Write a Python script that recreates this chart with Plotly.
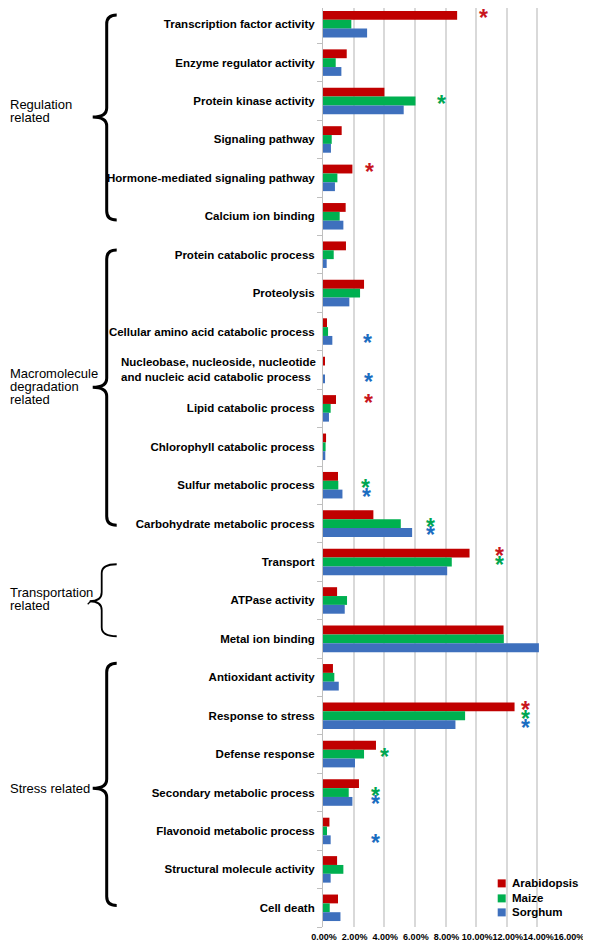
import plotly.graph_objects as go

# ---------------- data ----------------
categories = [
    "Transcription factor activity", "Enzyme regulator activity", "Protein kinase activity",
    "Signaling pathway", "Hormone-mediated signaling pathway", "Calcium ion binding",
    "Protein catabolic process", "Proteolysis", "Cellular amino acid catabolic process",
    "Nucleobase, nucleoside, nucleotide<br>and nucleic acid catabolic process",
    "Lipid catabolic process", "Chlorophyll catabolic process", "Sulfur metabolic process",
    "Carbohydrate metabolic process", "Transport", "ATPase activity", "Metal ion binding",
    "Antioxidant activity", "Response to stress", "Defense response",
    "Secondary metabolic process", "Flavonoid metabolic process",
    "Structural molecule activity", "Cell death",
]
arabidopsis = [8.76, 1.55, 4.01, 1.22, 1.92, 1.48, 1.50, 2.68, 0.26, 0.12, 0.85, 0.20,
               0.98, 3.29, 9.57, 0.92, 11.79, 0.65, 12.51, 3.46, 2.35, 0.42, 0.92, 0.98]
maize = [1.85, 0.83, 6.04, 0.57, 0.94, 1.09, 0.70, 2.42, 0.33, 0.0, 0.50, 0.17,
         1.00, 5.08, 8.41, 1.57, 11.81, 0.74, 9.28, 2.68, 1.68, 0.26, 1.33, 0.44]
sorghum = [2.88, 1.20, 5.27, 0.52, 0.78, 1.33, 0.24, 1.72, 0.61, 0.12, 0.39, 0.15,
           1.27, 5.82, 8.11, 1.42, 14.10, 1.03, 8.65, 2.09, 1.92, 0.50, 0.50, 1.14]
series_names = ["Arabidopsis", "Maize", "Sorghum"]

# significance asterisks: (category index, series index, x position in %)
star_cat = [0, 2, 4, 8, 9, 10, 12, 12, 13, 13, 14, 14, 18, 18, 18, 19, 20, 20, 21]
star_series = [0, 1, 0, 2, 2, 0, 1, 2, 1, 2, 0, 1, 0, 1, 2, 1, 1, 2, 2]
star_x = [10.5, 7.74, 3.05, 2.9, 2.99, 3.0, 2.79, 2.83, 7.0, 7.0, 11.5, 11.5,
          13.25, 13.25, 13.25, 4.03, 3.42, 3.42, 3.42]

group_lines = [["Regulation", "related"], ["Macromolecule", "degradation", "related"],
               ["Transportation", "related"], ["Stress related"]]

x_ticks = [0, 2, 4, 6, 8, 10, 12, 14, 16]
x_tick_labels = ["0.00%", "2.00%", "4.00%", "6.00%", "8.00%", "10.00%", "12.00%",
                 "14.00%", "16.00%"]

# ---------------- style ----------------
bar_colors = ["#C00000", "#00B050", "#3E70BD"]
star_colors = ["#C8161D", "#00A651", "#1B6DC1"]
FONT = "Liberation Sans, Arial, sans-serif"

# the page body has an 8px default margin; size the figure so it fills the window
OFF = 8
W, H = 591 - OFF, 945 - OFF
n = len(categories)
# screen-space geometry
X0_SCR, X16_SCR = 323.3, 568.3          # x of 0% and 16%
ROW0_TOP, ROW_H = 5.0, 38.4             # category band layout
PT_SCR, PB_SCR = 8.0, ROW0_TOP + ROW_H * n
ML = X0_SCR - OFF
MR = W - (X16_SCR - OFF)
MT = PT_SCR - OFF
MB = H - (PB_SCR - OFF)
plot_w = W - ML - MR
plot_h = H - MT - MB


def px2paper(px):          # px in screen coordinates
    return (px - OFF - ML) / plot_w


def py2paper(py):
    return 1 - (py - OFF - MT) / plot_h


def v(py):                 # screen y -> category-axis value
    return (py - ROW0_TOP) / ROW_H - 0.5


fig = go.Figure()
yidx = list(range(n))
for name, vals, col in zip(series_names, [arabidopsis, maize, sorghum], bar_colors):
    fig.add_trace(go.Bar(
        y=yidx, x=vals, orientation="h", name=name,
        marker=dict(color=col, line=dict(width=0)),
    ))

bar_off = 0.23
for c, s, xv in zip(star_cat, star_series, star_x):
    fig.add_annotation(
        x=xv, y=c + (s - 1) * bar_off, xref="x", yref="y", text="<b>*</b>",
        showarrow=False, font=dict(family=FONT, size=23, color=star_colors[s]),
        yshift=-3,
    )

# braces
brace_specs = [
    # (top_px, mid_px, bot_px, x_tip, x_vert, x_point, width)
    (15, 117, 220, 117, 107, 93, 3),
    (250, 387, 525, 117, 107, 93, 3),
    (564, 601, 636, 117, 102, 90, 1.8),
    (663, 788, 905, 117, 107, 93, 3),
]
for (top, mid, bot, xt, xv_, xp, lw) in brace_specs:
    r = 9
    path = (
        f"M {px2paper(xt)},{v(top)} "
        f"Q {px2paper(xv_)},{v(top)} {px2paper(xv_)},{v(top + r)} "
        f"L {px2paper(xv_)},{v(mid - r)} "
        f"Q {px2paper(xv_)},{v(mid)} {px2paper(xp)},{v(mid)} "
        f"Q {px2paper(xv_)},{v(mid)} {px2paper(xv_)},{v(mid + r)} "
        f"L {px2paper(xv_)},{v(bot - r)} "
        f"Q {px2paper(xv_)},{v(bot)} {px2paper(xt)},{v(bot)}"
    )
    fig.add_shape(type="path", path=path, xref="paper", yref="y",
                  line=dict(color="black", width=lw))

fig.add_shape(type="line", xref="paper", yref="y",
              x0=px2paper(88), x1=px2paper(91), y0=v(604), y1=v(601),
              line=dict(color="black", width=1.2))

# group labels, one annotation per line
group_first_line_y = [104, 373, 592, 788]
line_gap = 13
for lines, y0 in zip(group_lines, group_first_line_y):
    for k, txt in enumerate(lines):
        fig.add_annotation(
            x=px2paper(8), y=v(y0 + k * line_gap), xref="paper", yref="y", text=txt,
            showarrow=False, xanchor="left", yanchor="middle",
            font=dict(family=FONT, size=13, color="black"),
        )

# two-line category label is left-aligned in the original
ticktext = list(categories)
multi = [i for i, t in enumerate(categories) if "<br>" in t]
for i in multi:
    ticktext[i] = ""
    fig.add_annotation(
        x=px2paper(318.5), y=i, xref="paper", yref="y", text=f"<b>{categories[i]}</b>",
        showarrow=False, xanchor="right", yanchor="middle", align="left",
        font=dict(family=FONT, size=11.5, color="black"),
    )

# legend drawn as squares + labels
legend_rows_y = [883, 898, 912]
for name, col, ly in zip(series_names, bar_colors, legend_rows_y):
    fig.add_shape(type="rect", xref="paper", yref="paper",
                  x0=px2paper(498), x1=px2paper(506), y0=py2paper(ly - 4), y1=py2paper(ly + 4),
                  line=dict(width=0), fillcolor=col)
    fig.add_annotation(
        x=px2paper(510), y=py2paper(ly), xref="paper", yref="paper", text=f"<b>{name}</b>",
        showarrow=False, xanchor="left", yanchor="middle",
        font=dict(family=FONT, size=11.5, color="black"),
    )

fig.update_layout(
    width=W, height=H,
    margin=dict(l=ML, r=MR, t=MT, b=MB, autoexpand=False),
    paper_bgcolor="white", plot_bgcolor="white",
    barmode="group", bargap=0.31, bargroupgap=0,
    showlegend=False,
    font=dict(family=FONT, color="black"),
)
fig.update_xaxes(
    range=[0, 16], tickvals=x_ticks, ticktext=x_tick_labels,
    showgrid=True, gridcolor="#D9D9D9", gridwidth=1.5, zeroline=False, showline=False,
    ticks="", tickangle=0, automargin=False,
    tickfont=dict(family=FONT, size=9, color="black", weight="bold"),
    ticklabelshift=1, ticklabelstandoff=3,
)
fig.update_yaxes(
    range=[v(PB_SCR), v(PT_SCR)], tickvals=yidx, ticktext=ticktext,
    showgrid=False, zeroline=False, showline=True, linecolor="#BFBFBF", linewidth=1,
    ticks="", ticklabelstandoff=5, automargin=False,
    tickfont=dict(family=FONT, size=11.5, color="black", weight="bold"),
    minor=dict(tickvals=[i - 0.5 for i in range(n + 1)], ticks="outside",
               ticklen=5, tickcolor="#BFBFBF", showgrid=False),
)

fig.write_html("out.html")
